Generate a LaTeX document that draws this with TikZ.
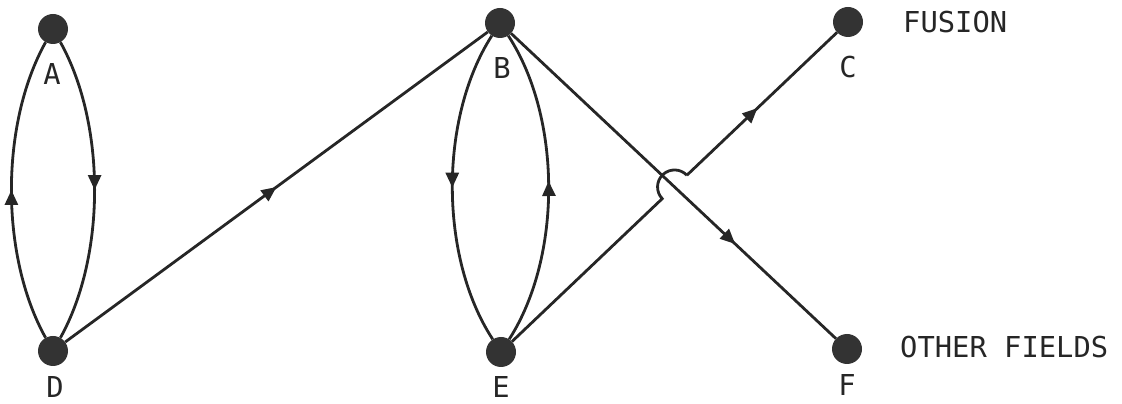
\documentclass[tikz,border=0pt]{standalone}
\usepackage{fontspec}
\setmainfont{DejaVu Sans Mono}
\usetikzlibrary{arrows.meta,decorations.markings,calc}
\begin{document}
\begin{tikzpicture}[x=1pt,y=1pt,
  dot/.style={circle,fill=black!80,inner sep=0pt,minimum size=30pt},
  lbl/.style={inner sep=0pt,text=black!85,font=\fontsize{28.8}{30}\selectfont},
  edge/.style={draw=black!85,line width=2.8pt},
  midarrow/.style={postaction={decorate},decoration={markings,
     mark=at position #1 with {\arrow{Triangle[length=15pt,width=13pt]}}}}
]
\useasboundingbox (0,0) rectangle (1122,404);
% nodes
\node[dot] (A) at (53,375) {};
\node[dot] (D) at (53,53) {};
\node[dot] (B) at (500,381) {};
\node[dot] (E) at (501,52) {};
\node[dot] (C) at (848,382) {};
\node[dot] (F) at (847,55) {};
% labels
\node[lbl] (lA) at (52,330) {A};
\node[lbl] (lD) at (55,17) {D};
\node[lbl] (lB) at (502,336) {B};
\node[lbl] (lE) at (501,17) {E};
\node[lbl] (lC) at (848,337) {C};
\node[lbl] (lF) at (847,19) {F};
\node[lbl,anchor=west] (fus) at (903,382) {FUSION};
\node[lbl,anchor=west] (oth) at (900,57) {OTHER FIELDS};
% loop A-D
\draw[edge,midarrow=0.5] (A) .. controls (106,280) and (106,148) .. (D);
\draw[edge,midarrow=0.5] (D) .. controls (0,148) and (0,280) .. (A);
% loop B-E
\draw[edge,midarrow=0.5] (B) .. controls (439,286) and (439,147) .. (E);
\draw[edge,midarrow=0.52] (E) .. controls (562,147) and (562,286) .. (B);
% D -> B
\draw[edge,midarrow=0.5] (D) -- (B);
% B -> F
\draw[edge,midarrow=0.69] (B) -- (F);
% E -> C with hop over B-F
\coordinate (X) at (intersection of B--F and E--C);
\coordinate (P1) at ($(X)!17pt!(E)$);
\coordinate (P2) at ($(X)!17pt!(C)$);
\draw[edge] (E) -- (P1) arc[start angle=223.56,end angle=43.56,radius=17pt];
\draw[edge,midarrow=0.47] (P2) -- (C);
\end{tikzpicture}
\end{document}
